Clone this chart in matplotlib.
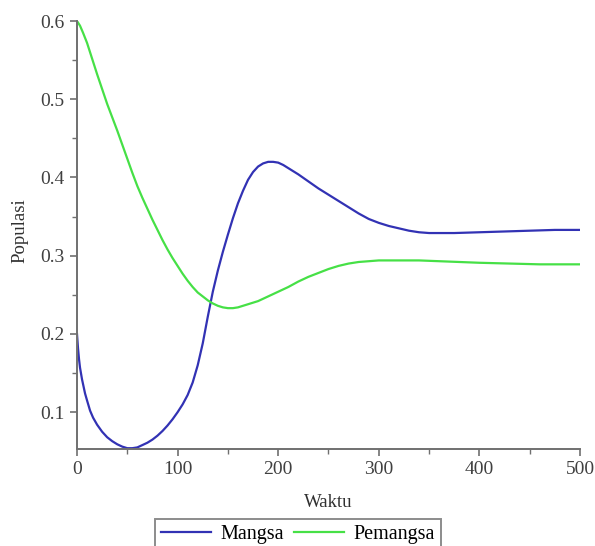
import numpy as np
import matplotlib
matplotlib.use("Agg")
import matplotlib.pyplot as plt
from matplotlib.ticker import MultipleLocator

# values
waktu_mangsa = [0, 1, 2, 3, 5, 8, 10, 13, 16, 20, 25, 30, 35, 40, 45, 50, 55, 60, 65, 70,
                75, 80, 85, 90, 95, 100, 105, 110, 115, 120, 125, 130, 135, 140, 145, 150,
                155, 160, 165, 170, 175, 180, 185, 190, 195, 200, 205, 210, 220, 230, 240,
                250, 260, 270, 280, 290, 300, 310, 320, 330, 340, 350, 360, 375, 400, 425,
                450, 475, 500]
mangsa = [0.200, 0.182, 0.168, 0.157, 0.142, 0.124, 0.115, 0.102, 0.093, 0.084, 0.075,
          0.068, 0.063, 0.059, 0.056, 0.054, 0.054, 0.055, 0.058, 0.061, 0.065, 0.070,
          0.076, 0.083, 0.091, 0.100, 0.110, 0.122, 0.138, 0.160, 0.188, 0.222, 0.254,
          0.281, 0.305, 0.327, 0.348, 0.367, 0.383, 0.397, 0.407, 0.414, 0.418, 0.420,
          0.420, 0.419, 0.416, 0.412, 0.404, 0.395, 0.386, 0.378, 0.370, 0.362, 0.354,
          0.347, 0.342, 0.338, 0.335, 0.332, 0.330, 0.329, 0.329, 0.329, 0.330, 0.331,
          0.332, 0.333, 0.333]

waktu_pemangsa = [0, 3, 6, 10, 15, 20, 25, 30, 35, 40, 45, 50, 55, 60, 65, 70, 75, 80, 85,
                  90, 95, 100, 105, 110, 115, 120, 125, 130, 135, 140, 145, 150, 155, 160,
                  165, 170, 180, 190, 200, 210, 220, 230, 240, 250, 260, 270, 280, 290,
                  300, 310, 320, 340, 360, 380, 400, 430, 460, 500]
pemangsa = [0.600, 0.594, 0.585, 0.572, 0.552, 0.532, 0.513, 0.494, 0.477, 0.460, 0.442,
            0.424, 0.406, 0.389, 0.374, 0.360, 0.346, 0.333, 0.320, 0.308, 0.297, 0.287,
            0.277, 0.268, 0.260, 0.253, 0.248, 0.243, 0.239, 0.236, 0.234, 0.233, 0.233,
            0.234, 0.236, 0.238, 0.242, 0.248, 0.254, 0.260, 0.267, 0.273, 0.278, 0.283,
            0.287, 0.290, 0.292, 0.293, 0.294, 0.294, 0.294, 0.294, 0.293, 0.292, 0.291,
            0.290, 0.289, 0.289]

x_ticks = [0, 100, 200, 300, 400, 500]
y_ticks = [0.1, 0.2, 0.3, 0.4, 0.5, 0.6]

plt.rcParams['font.family'] = ['Liberation Serif', 'DejaVu Serif']

fig = plt.figure(figsize=(5.95, 5.46), dpi=100)
ax = fig.add_axes([0.1294, 0.1777, 0.8454, 0.7838])

l1, = ax.plot(waktu_mangsa, mangsa, color='#3232b4', lw=1.6)
l2, = ax.plot(waktu_pemangsa, pemangsa, color='#46e046', lw=1.6)

ax.set_xlim(0, 500)
ax.set_ylim(0.053, 0.6)
ax.set_xticks(x_ticks)
ax.set_yticks(y_ticks)
ax.set_yticklabels([str(v) for v in y_ticks])
ax.xaxis.set_minor_locator(MultipleLocator(50))
ax.yaxis.set_minor_locator(MultipleLocator(0.05))

for s in ['top', 'right']:
    ax.spines[s].set_visible(False)
for s in ['left', 'bottom']:
    ax.spines[s].set_color('#707070')
    ax.spines[s].set_linewidth(1.4)

ax.tick_params(which='major', length=5, width=1.2, color='#707070',
               labelsize=14, labelcolor='#404040', pad=4)
ax.tick_params(which='minor', length=3.5, width=1.0, color='#707070')

ax.set_xlabel('Waktu', fontsize=13.5, color='#303030')
ax.xaxis.set_label_coords(0.5, -0.105)
ax.set_ylabel('Populasi', fontsize=13.5, color='#303030')
ax.yaxis.set_label_coords(-0.097, 0.51)

leg = fig.legend([l1, l2], ['Mangsa', 'Pemangsa'], loc='upper left',
                 bbox_to_anchor=(155 / 595, 1 - 519 / 546), ncol=2,
                 fontsize=14.5, frameon=True, fancybox=False, handlelength=2.5,
                 columnspacing=0.5, handletextpad=0.45, borderpad=0.3,
                 borderaxespad=0)
leg.get_frame().set_edgecolor('#707070')
leg.get_frame().set_linewidth(1.4)

fig.savefig('out.png', dpi=100)
